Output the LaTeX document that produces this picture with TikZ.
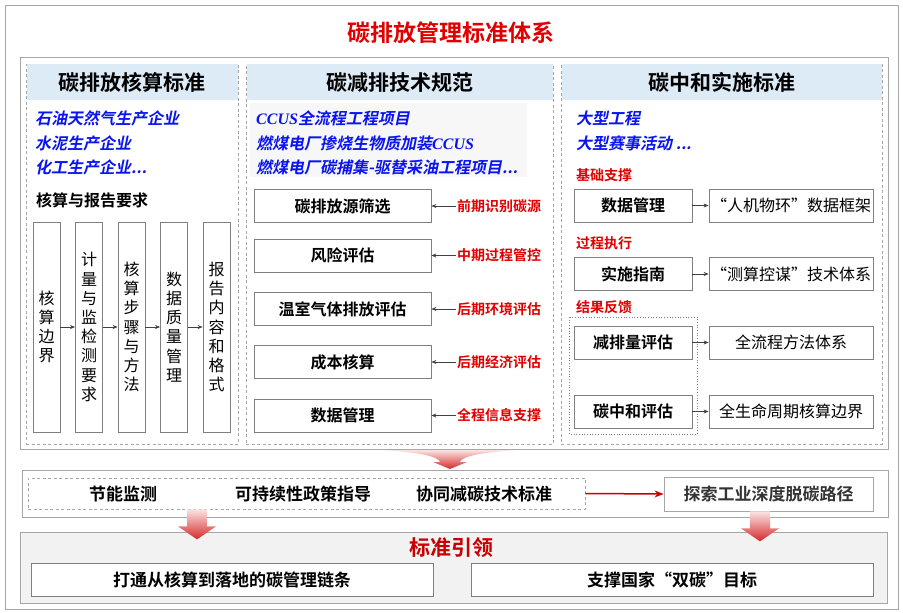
\documentclass[tikz,border=0pt]{standalone}
\usepackage{fontspec}
\setmainfont{Noto Sans CJK SC}[BoldFont={Noto Sans CJK SC Bold}]
\newfontfamily\slantcjk{Noto Sans CJK SC Bold}[FakeSlant=0.2]
\newfontfamily\latinserif{Liberation Serif}
\usetikzlibrary{positioning,arrows.meta}

\definecolor{framegrey}{HTML}{A6A6A6}
\definecolor{boxgrey}{HTML}{7F7F7F}
\definecolor{hdrblue}{HTML}{DDEBF7}
\definecolor{itemblue}{HTML}{0A14F0}
\definecolor{labelred}{HTML}{E00000}
\definecolor{darkred}{HTML}{C80000}
\definecolor{panelgrey}{HTML}{F2F2F2}
\definecolor{arrowpink}{HTML}{FBE3E3}
\definecolor{arrowred}{HTML}{D42A2A}

\tikzset{
  colframe/.style={draw=framegrey, line width=0.8pt, dash pattern=on 3pt off 2.5pt, minimum width=#1, minimum height=380pt, inner sep=0pt},
  header/.style={fill=hdrblue, minimum height=36pt, inner sep=0pt, font=\fontsize{21}{24}\selectfont\bfseries},
  itemtext/.style={text=itemblue, anchor=west, inner sep=0pt, font=\fontsize{16}{18}\slantcjk},
  redlabel/.style={text=labelred, anchor=west, inner sep=1pt, font=\fontsize{14}{16}\selectfont\bfseries},
  stdbox/.style={draw=boxgrey, line width=0.8pt, fill=white, minimum width=#1, minimum height=33pt, inner sep=0pt, font=\fontsize{16}{18}\selectfont\bfseries},
  thinbox/.style={stdbox=#1, font=\fontsize{16}{18}\selectfont},
  vbox/.style={draw=boxgrey, line width=0.8pt, minimum width=27pt, minimum height=210pt, inner sep=0pt, align=center, font=\fontsize{16}{19.2}\selectfont},
  link/.style={-{Stealth[length=5pt,width=4pt]}, draw=black!75, line width=0.6pt},
}

% Red block arrow pointing down, top at #1
\newcommand\downblock[1]{%
  \shade[top color=arrowpink, bottom color=arrowred]
    (#1) ++(-10,0) -- ++(20,0) -- ++(0,17) -- ++(9,0) -- ++(-19,13)
    -- ++(-19,-13) -- ++(9,0) -- cycle;}

\begin{document}
\begin{tikzpicture}[x=1pt,y=-1pt]
\useasboundingbox (0,0) rectangle (903,613);
% Outer frame and title
\draw[framegrey, line width=1pt] (5,5) rectangle (898,609);
\node[text=labelred, font=\fontsize{23}{26}\selectfont\bfseries] (title) at (451,33) {碳排放管理标准体系};
% Upper frame holding the three columns
\draw[framegrey, line width=1pt] (20,57) rectangle (888,449);

% Three dashed columns with their headers
\node[colframe=212pt] (col1) at (132,254) {};
\node[colframe=307pt] (col2) at (399.5,254) {};
\node[colframe=321pt] (col3) at (721.5,254) {};
\node[header, minimum width=211pt, anchor=north] (head1) at ([yshift=-0.5pt]col1.north) {碳排放核算标准};
\node[header, minimum width=306pt, anchor=north] (head2) at ([yshift=-0.5pt]col2.north) {碳减排技术规范};
\node[header, minimum width=320pt, anchor=north] (head3) at ([yshift=-0.5pt]col3.north) {碳中和实施标准};

% Column 1: enterprises and accounting steps
\node[itemtext] (ent1) at (35,118) {石油天然气生产企业};
\node[itemtext] (ent2) at (35,143) {水泥生产企业};
\node[itemtext] (ent3) at (35,167) {化工生产企业...};
\node[anchor=west, inner sep=0pt, font=\fontsize{16}{18}\selectfont\bfseries] (req) at (36,200) {核算与报告要求};
\node[vbox] (bound) at (46.5,327) {核\\算\\边\\界};
\node[vbox] (meas) at (89,327) {计\\量\\与\\监\\检\\测\\要\\求};
\node[vbox] (steps) at (131.5,327) {核\\算\\步\\骤\\与\\方\\法};
\node[vbox] (qual) at (174,327) {数\\据\\质\\量\\管\\理};
\node[vbox] (rep) at (216.5,327) {报\\告\\内\\容\\和\\格\\式};
\draw[link] (bound) -- (meas);
\draw[link] (meas) -- (steps);
\draw[link] (steps) -- (qual);
\draw[link] (qual) -- (rep);

% Column 2: project types and evaluation chain
\fill[black!3] (250,103) rectangle (527,177);
\node[itemtext] (proj1) at (256,118) {{\latinserif\bfseries\itshape CCUS}全流程工程项目};
\node[itemtext] (proj2) at (256,143) {燃煤电厂掺烧生物质加装{\latinserif\bfseries\itshape CCUS}};
\node[itemtext] (proj3) at (256,167) {燃煤电厂碳捕集-驱替采油工程项目...};
\node[stdbox=177pt] (src) at (342.5,206) {碳排放源筛选};
\node[stdbox=177pt] (risk) at (342.5,255.5) {风险评估};
\node[stdbox=177pt] (ghg) at (342.5,309) {温室气体排放评估};
\node[stdbox=177pt] (cost) at (342.5,362) {成本核算};
\node[stdbox=177pt] (data) at (342.5,415.5) {数据管理};
\node[redlabel] (early) at (456,206) {前期识别碳源};
\node[redlabel] (middle) at (456,255.5) {中期过程管控};
\node[redlabel] (envir) at (456,309) {后期环境评估};
\node[redlabel] (econ) at (456,362) {后期经济评估};
\node[redlabel] (info) at (456,415.5) {全程信息支撑};
\draw[link] (early) -- (src);
\draw[link] (middle) -- (risk);
\draw[link] (envir) -- (ghg);
\draw[link] (econ) -- (cost);
\draw[link] (info) -- (data);

% Column 3: scenarios and implementation
\node[itemtext] (large1) at (576,118) {大型工程};
\node[itemtext] (large2) at (576,143) {大型赛事活动 ...};
\node[redlabel, inner sep=0pt] (basis) at (576,175) {基础支撑};
\node[redlabel, inner sep=0pt] (proc) at (576,243) {过程执行};
\node[redlabel, inner sep=0pt] (result) at (576,307) {结果反馈};
\draw[boxgrey, dotted, line width=0.7pt] (569,317) rectangle (697,434);
\node[stdbox=118pt] (dman) at (633,205.5) {数据管理};
\node[stdbox=118pt] (guide) at (633,274) {实施指南};
\node[stdbox=118pt] (redu) at (633,342.5) {减排量评估};
\node[stdbox=118pt] (neut) at (633,411.5) {碳中和评估};
\node[thinbox=164pt] (frame) at (791,205.5) {“人机物环”数据框架};
\node[thinbox=164pt] (tech) at (791,274) {“测算控谋”技术体系};
\node[thinbox=164pt] (method) at (791,342.5) {全流程方法体系};
\node[thinbox=164pt] (life) at (791,411.5) {全生命周期核算边界};
\draw[link] (dman) -- (frame);
\draw[link] (guide) -- (tech);
\draw[link] (redu) -- (method);
\draw[link] (neut) -- (life);

% Funnel arrow into the middle band
\shade[top color=arrowpink, bottom color=arrowred]
  (383,450) .. controls (425,453) and (438,457) .. (440,462) -- (433,462)
  -- (450,469) -- (467,462) -- (460,462) .. controls (462,457) and (475,453) .. (517,450) -- cycle;

% Middle band
\draw[framegrey, line width=1pt] (22,470) rectangle (888,517);
\node[draw=framegrey, line width=0.8pt, dash pattern=on 3pt off 2.5pt, minimum width=557pt, minimum height=31pt] (band) at (306.5,493.5) {};
\node[font=\fontsize{17}{19}\selectfont\bfseries] (save) at (123,494) {节能监测};
\node[font=\fontsize{17}{19}\selectfont\bfseries] (policy) at (303,494) {可持续性政策指导};
\node[font=\fontsize{17}{19}\selectfont\bfseries] (synergy) at (484,494) {协同减碳技术标准};
\node[draw=framegrey, line width=0.8pt, fill=white, minimum width=209pt, minimum height=34pt, inner sep=0pt, text=black!80, font=\fontsize{17}{19}\selectfont\bfseries] (path) at (768.5,494) {探索工业深度脱碳路径};
\draw[-{Stealth[length=9pt,width=7pt]}, darkred, line width=1.5pt] (band.east) -- (path.west);

% Bottom panel
\draw[framegrey, fill=panelgrey, line width=1pt] (20,532) rectangle (887,603);
\node[text=darkred, font=\fontsize{21}{24}\selectfont\bfseries] (lead) at (451,548) {标准引领};
\node[stdbox=402pt, font=\fontsize{17}{19}\selectfont\bfseries] (chain) at (232,579.5) {打通从核算到落地的碳管理链条};
\node[stdbox=402pt, font=\fontsize{17}{19}\selectfont\bfseries] (goal) at (672,579.5) {支撑国家“双碳”目标};

% Down arrows into the bottom panel
\coordinate (leftdrop) at (band.south -| chain.north);
\coordinate (rightdrop) at (path.south);
\downblock{[xshift=-35pt]leftdrop}
\downblock{[xshift=-8.5pt]rightdrop}
\end{tikzpicture}
\end{document}
